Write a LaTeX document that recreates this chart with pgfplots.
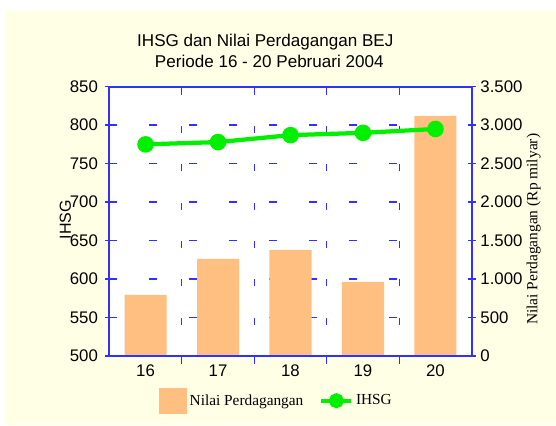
\documentclass[border=0pt]{standalone}
\usepackage{fontspec}
\setmainfont{Liberation Sans}
\newfontfamily\serif{Liberation Serif}
\usepackage{pgfplots}
\pgfplotsset{compat=1.18}
\definecolor{bgc}{HTML}{FFFFE6}
\definecolor{barc}{HTML}{FFBF80}
\definecolor{linec}{HTML}{00F000}
\definecolor{axc}{HTML}{3030FF}

\begin{document}
\begin{tikzpicture}[x=0.75pt,y=0.75pt]
\path[use as bounding box] (-109.3,-69) rectangle (446.7,356);
\fill[bgc] (-103,-69) rectangle (446.7,345);
\node[anchor=base, font=\fontsize{12.8}{14}\selectfont] at (156,309) {IHSG dan Nilai Perdagangan BEJ};
\node[anchor=base, font=\fontsize{12.8}{14}\selectfont] at (160,288) {Periode 16 - 20 Pebruari 2004};

\begin{axis}[
  at={(0,0)}, anchor=south west, scale only axis,
  width=271.8pt, height=202pt,
  xmin=15.5, xmax=20.5, ymin=0, ymax=3500,
  axis background/.style={fill=white},
  axis line style={axc, line width=1.5pt},
  ytick={0,500,...,3500}, ytick pos=right, yticklabel pos=right,
  xtick={16.5,17.5,18.5,19.5}, xticklabels={}, xtick pos=bottom,
  tick align=center, major tick length=6pt,
  tick style={axc, line width=1pt},
  xmajorgrids, ymajorgrids,
  x grid style={axc, line width=1pt, dash pattern=on 5.25pt off 23.5pt, dash phase=5.25pt},
  y grid style={axc, line width=1pt, dash pattern=on 6pt off 24pt},
  scaled y ticks=false,
  /pgf/number format/1000 sep={.},
  /pgf/number format/assume math mode=true,
  tick label style={font=\fontsize{12.6}{14}\selectfont},
  ylabel={Nilai Perdagangan (Rp milyar)},
  every axis y label/.style={at={(axis description cs:1.171,0.47)}, anchor=center, rotate=90, font=\serif\fontsize{11.6}{13}\selectfont},
  ybar, bar width=0.58,
]
\addplot[fill=barc, draw=none] coordinates {(16,793) (17,1261) (18,1378) (19,962) (20,3119)};
\end{axis}

\begin{axis}[
  at={(0,0)}, anchor=south west, scale only axis,
  width=271.8pt, height=202pt,
  xmin=15.5, xmax=20.5, ymin=500, ymax=850,
  axis y line*=left, axis x line*=bottom,
  axis line style={axc, line width=1.5pt, -},
  ytick={500,550,...,850},
  xtick={16,17,18,19,20},
  xtick style={draw=none},
  ytick style={axc, line width=1pt},
  tick align=center, major tick length=6pt,
  /pgf/number format/assume math mode=true,
  tick label style={font=\fontsize{12.6}{14}\selectfont},
  yticklabel style={xshift=-2pt},
  ylabel={IHSG},
  every axis y label/.style={at={(axis description cs:-0.1215,0.507)}, anchor=center, rotate=90, font=\fontsize{12}{14}\selectfont},
  legend columns=2,
  legend style={at={(axis description cs:0.4627,-0.166)}, anchor=center, draw=none, fill=none,
    font=\serif\fontsize{11.5}{13}\selectfont,
    /tikz/every even column/.append style={column sep=10pt}},
  legend cell align=left,
]
\addlegendimage{legend image code/.code={\fill[barc] (0pt,-9.4pt) rectangle (20.25pt,9.4pt);}}
\addlegendentry{Nilai Perdagangan}
\addplot[linec, line width=3.2pt, mark=*, mark size=4.6pt,
  legend image code/.code={\draw[linec, line width=3pt] (0pt,0pt) -- (22.5pt,0pt); \fill[linec] (11.25pt,0pt) circle (4pt);}]
  coordinates {(16,775) (17,778) (18,787) (19,790) (20,795)};
\addlegendentry{IHSG}
\end{axis}
\end{tikzpicture}
\end{document}
